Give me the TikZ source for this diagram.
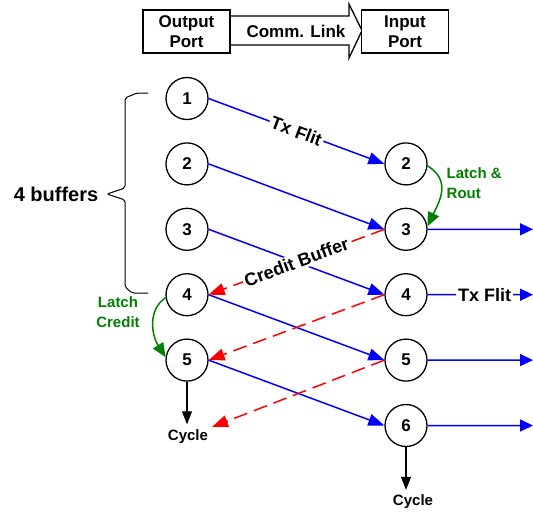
\documentclass[tikz,border=0pt]{standalone}
\usepackage{fontspec}
\setmainfont{Liberation Sans}
\usetikzlibrary{arrows.meta,calc}
\begin{document}
\begin{tikzpicture}[x=1pt,y=1pt,
  buf/.style={circle,draw,line width=1.3pt,minimum size=42pt,inner sep=0pt,font=\fontsize{17}{17}\selectfont\bfseries},
  portbox/.style={draw,line width=1.3pt,minimum width=87pt,minimum height=43pt,inner sep=0pt,align=center,fill=white,font=\fontsize{17}{20}\selectfont\bfseries},
  biglabel/.style={font=\fontsize{18}{18}\selectfont\bfseries,inner sep=2pt},
  greenlabel/.style={text=green!50!black,font=\fontsize{15}{19.5}\selectfont\bfseries,inner sep=0pt},
  cyclabel/.style={font=\fontsize{15}{15}\selectfont\bfseries,inner sep=5pt},
  txflit/.style={draw=blue,line width=1.5pt,-{Triangle[length=16pt,width=12pt]}},
  outflit/.style={draw=blue,line width=1.5pt,-{Triangle[length=13pt,width=12pt]}},
  credit/.style={draw=red,line width=1.5pt,dash pattern=on 14pt off 7pt,-{Triangle[length=16pt,width=12pt]}},
  latch/.style={draw=green!50!black,line width=1.5pt,-{Triangle[length=14pt,width=12pt]}},
  cycarrow/.style={draw=black,line width=1.2pt,-{Triangle[length=13pt,width=10pt]}},
  bracepath/.style={draw=black,line width=1pt,rounded corners=2pt}
]
\useasboundingbox (0,0) rectangle (533,-512);

% top: ports and link
\draw[line width=1.3pt,fill=white] (228,-16) -- (349,-16) -- (349,-4) -- (362,-30.5) -- (349,-58) -- (349,-45) -- (228,-45);
\node[portbox] (op) at (186.5,-31.5) {Output\\Port};
\node[portbox] (ip) at (405,-31.5) {Input\\Port};
\node[font=\fontsize{17}{17}\selectfont\bfseries,inner sep=0pt] (link) at (296,-31) {Comm. Link};

% buffers
\foreach \i in {1,...,5} {
  \node[buf] (l\i) at (187,{-98.5-65.4*(\i-1)}) {\i};
}
\foreach \i in {2,...,6} {
  \node[buf] (r\i) at (406,{-98.5-65.4*(\i-1)}) {\i};
}

% brace
\draw[bracepath] (148,-93) -- (137,-93) -- (125,-98) -- (125,-188) -- (107,-194) -- (125,-200) -- (125,-287) -- (132,-293) -- (148,-293);
\node[font=\fontsize{20}{20}\selectfont\bfseries,inner sep=0pt] (nbuf) at (56,-194.5) {4 buffers};

% cycle labels
\node[cyclabel] (cyc1) at (188,-436.5) {Cycle};
\node[cyclabel] (cyc2) at (413,-502) {Cycle};
\coordinate (cend) at (212,-427);

% outgoing ends
\coordinate (e3) at (533,-229.3);
\coordinate (e4) at (533,-294.7);
\coordinate (e5) at (533,-360.1);
\coordinate (e6) at (533,-425.5);

% blue flit transfers
\draw[txflit] (l1.east) -- (r2.west) node[midway,sloped,biglabel,fill=white] {Tx Flit};
\draw[txflit] (l2.east) -- (r3.west);
\draw[txflit] (l3.east) -- (r4.west);
\draw[txflit] (l4.east) -- (r5.west);
\draw[txflit] (l5.east) -- (r6.west);

% outgoing
\draw[outflit] (r3.east) -- (e3);
\draw[outflit] (r4.east) -- (e4) node[pos=0.54,biglabel,fill=white] {Tx Flit};
\draw[outflit] (r5.east) -- (e5);
\draw[outflit] (r6.east) -- (e6);

% red credits
\draw[credit] (r3.west) -- (l4.east) node[midway,sloped,biglabel,fill=white] {Credit Buffer};
\draw[credit] (r4.west) -- (l5.east);
\draw[credit] (r5.west) -- (cend);

% green latches
\draw[latch] (r2.-5) .. controls +(24,-15) and +(12,25) .. (r3.8);
\node[greenlabel,align=left,anchor=west] (lr) at (446.5,-183) {Latch \&\\Rout};
\draw[latch] (l4.188) .. controls +(-18,-12) and +(-14,22) .. (l5.172);
\node[greenlabel,align=center] (lc) at (118,-312) {Latch\\Credit};

% cycles
\draw[cycarrow] (l5.south) -- (l5.south |- cyc1.north);
\draw[cycarrow] (r6.south) -- (r6.south |- cyc2.north);
\end{tikzpicture}
\end{document}
